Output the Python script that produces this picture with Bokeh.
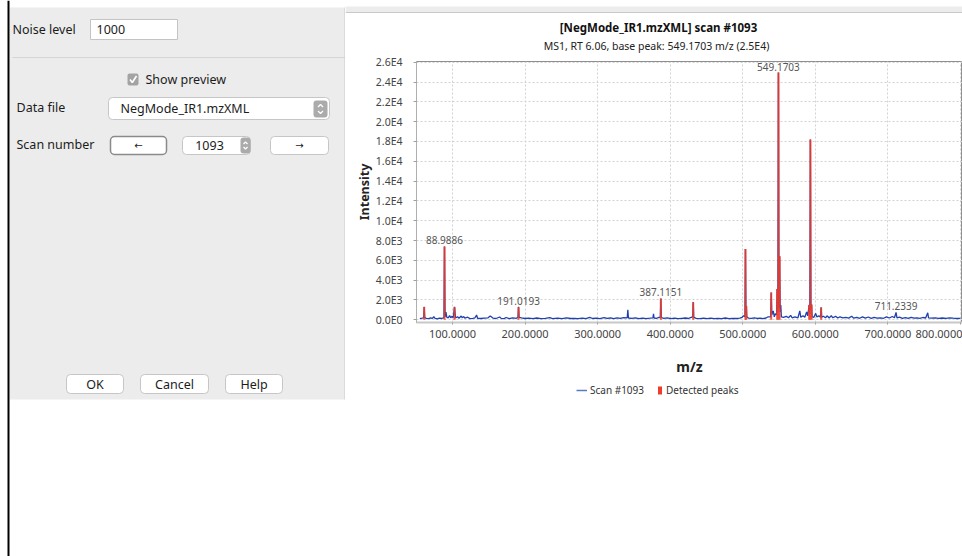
from bokeh.plotting import figure
from bokeh.models import Range1d, FixedTicker, Legend, LegendItem
from bokeh.layouts import row, column
from bokeh.core.properties import value
from bokeh.embed import file_html
from bokeh.resources import INLINE

FONT = "Noto Sans"

# ---------------- data ----------------
x_ticks = [100, 200, 300, 400, 500, 600, 700, 800]
x_tick_labels = ["100.0000", "200.0000", "300.0000", "400.0000",
                 "500.0000", "600.0000", "700.0000", "800.0000"]
y_ticks = [0, 2000, 4000, 6000, 8000, 10000, 12000, 14000,
           16000, 18000, 20000, 22000, 24000, 26000]
y_tick_labels = ["0.0E0", "2.0E3", "4.0E3", "6.0E3", "8.0E3", "1.0E4", "1.2E4",
                 "1.4E4", "1.6E4", "1.8E4", "2.0E4", "2.2E4", "2.4E4", "2.6E4"]

# detected peaks (red bars)
peak_mz = [61.0, 88.9886, 102.8, 191.0193, 387.1151, 431.7, 503.7, 504.9,
           539.2, 547.4, 549.1703, 550.8, 591.5, 593.2, 594.8, 608.0]
peak_int = [1300, 7400, 1300, 1300, 2150, 1780, 7150, 1400,
            2750, 3100, 24950, 6400, 1500, 18200, 1550, 1250]

# scan #1093 profile (blue line)
scan_mz = [55, 58, 60.2, 61.0, 61.8, 64, 67, 70, 72.5, 74.2, 76, 79, 82, 85, 88.2,
           88.99, 89.8, 91.0, 92.2, 94, 96, 97.5, 99.5, 101, 102.8, 104.2, 107, 109,
           112, 113.5, 115.5, 117, 121, 124, 128, 131, 133.2, 134.5, 139, 144, 149,
           152, 153.5, 156, 160, 165, 167, 171, 174, 178, 183, 188, 190.2, 191.02,
           191.8, 195, 200, 205, 211, 216, 222, 228, 234, 238, 245, 251, 257, 263,
           268, 273, 279, 284, 289, 293, 298, 303, 309, 313, 318, 322, 327, 331, 336,
           340.8, 341.6, 342.5, 347, 352, 357, 362, 367, 372, 376.2, 377, 377.8, 381,
           384, 386.4, 387.12, 387.9, 391, 396, 401, 406, 411, 416, 421, 425, 429,
           431.0, 431.7, 432.5, 436, 441, 446, 451, 456, 461, 466, 471, 476, 481, 486,
           491, 496, 499, 501, 503.0, 503.7, 504.4, 504.9, 505.6, 508, 512, 516, 520,
           524, 528, 532, 535, 538.4, 539.2, 540.0, 541, 542, 543.5, 545, 546.6, 547.4,
           548.3, 549.17, 550.0, 550.8, 551.6, 552.4, 553.2, 556, 560, 563, 566, 568,
           572, 576, 578.6, 580, 583, 585.5, 588, 589.5, 591.5, 592.4, 593.2, 594.0,
           594.8, 595.6, 598, 600.5, 602, 605, 607.2, 608.0, 608.8, 611, 614, 616.5,
           619, 622, 624, 628, 631, 634, 638, 642, 646, 650, 653, 657, 661, 665, 669,
           673, 677, 681, 685, 690, 694, 698, 702, 706, 709, 711.23, 712.5, 716, 720,
           724, 728, 732, 736, 740, 744, 748, 752, 754.9, 756, 760, 765, 770, 775, 780,
           785, 790, 795, 800]
scan_int = [120, 160, 200, 1300, 220, 150, 110, 180, 150, 320, 140, 100, 160, 130, 200,
            7400, 300, 780, 250, 180, 420, 200, 350, 200, 1300, 180, 300, 150,
            380, 200, 330, 160, 260, 120, 150, 200, 480, 150, 130, 170, 200,
            380, 300, 160, 130, 280, 140, 120, 230, 110, 200, 150, 250, 1300,
            250, 200, 130, 160, 120, 180, 120, 150, 210, 120, 160, 110, 200, 130,
            150, 110, 170, 120, 240, 130, 160, 120, 210, 140, 180, 110, 200, 150, 220,
            200, 1000, 180, 150, 200, 110, 170, 120, 160, 200, 600, 180, 140,
            230, 250, 2150, 230, 150, 200, 120, 170, 110, 150, 180, 130, 250,
            300, 1780, 250, 140, 120, 170, 110, 160, 120, 140, 110, 180, 120, 150,
            130, 170, 250, 400, 300, 7150, 500, 1400, 300, 160, 140, 200, 130,
            170, 120, 180, 300, 300, 2750, 500, 700, 900, 300, 600, 500, 3100,
            800, 24950, 1200, 6400, 800, 1500, 300, 250, 350, 200, 450, 200,
            300, 200, 900, 250, 400, 250, 800, 400, 1500, 600, 18200, 1000,
            1550, 300, 250, 650, 300, 400, 250, 1250, 250, 350, 200, 400,
            180, 420, 200, 350, 180, 300, 200, 250, 170, 350, 160, 250, 150, 300, 160,
            280, 150, 250, 170, 200, 150, 300, 180, 330, 200, 740, 200, 260, 150,
            220, 140, 250, 160, 200, 140, 230, 180, 700, 200, 160, 200, 140, 180, 150,
            200, 160, 130, 150]

label_mz = [88.9886, 191.0193, 387.1151, 549.1703, 711.2339]
label_int = [7400, 1300, 2150, 24950, 740]
label_text = ["88.9886", "191.0193", "387.1151", "549.1703", "711.2339"]

chart_title = "[NegMode_IR1.mzXML] scan #1093"
chart_subtitle = "MS1, RT 6.06, base peak: 549.1703 m/z (2.5E4)"
legend_labels = ["Scan #1093", "Detected peaks"]

RED = "#f03c28"
BLUE = "#2040b0"
PANEL = "#ececec"
TXT = "#1c1c1c"


def blank(fig):
    fig.grid.visible = False
    fig.outline_line_color = None
    fig.background_fill_color = "white"
    fig.border_fill_color = "white"


# ---------------- left dialog panel ----------------
L = figure(width=345, height=556, x_range=Range1d(0, 345), y_range=Range1d(556, 0),
           output_backend="svg", toolbar_location=None, min_border=0,
           x_axis_location=None, y_axis_location=None)
L.frame_align = False
blank(L)
L.quad(left=[9], right=[345], top=[7], bottom=[399], fill_color=PANEL, line_color=None)
L.quad(left=[7], right=[9], top=[0], bottom=[556], fill_color="black", line_color=None)
L.segment(x0=[12], y0=[57], x1=[345], y1=[57], line_color="#d4d4d4", line_width=1)
L.segment(x0=[344.5], y0=[7], x1=[344.5], y1=[399], line_color="#cacaca", line_width=1)

# text field
L.quad(left=[90], right=[177], top=[19], bottom=[39], fill_color="white", line_color="#c4c4c4")
# rounded controls
L.quad(left=[108, 182, 270, 66, 140, 225], right=[329, 250, 328, 123, 208, 282],
       top=[97, 136, 136, 374, 374, 374], bottom=[119, 154, 154, 393, 393, 393],
       fill_color="white", line_color="#c6c6c6", border_radius=4)
L.quad(left=[110], right=[166], top=[136], bottom=[154], fill_color="white",
       line_color="#8a8a8a", line_width=1.5, border_radius=4)
# steppers
L.quad(left=[313, 240], right=[327, 250], top=[100, 137], bottom=[117, 153],
       fill_color="#ababab", line_color=None, border_radius=3)
L.multi_line(xs=[[317.5, 320, 322.5], [317.5, 320, 322.5], [243, 245, 247], [243, 245, 247]],
             ys=[[106.5, 104, 106.5], [110.5, 113, 110.5], [143.5, 141.5, 143.5], [146.5, 148.5, 146.5]],
             line_color="white", line_width=1.3)
# checkbox
L.quad(left=[127], right=[138], top=[73], bottom=[85], fill_color="#a3a3a3",
       line_color=None, border_radius=2)
L.line(x=[129.5, 131.8, 136], y=[79, 82, 75.5], line_color="white", line_width=1.6)

L.text(x=[12, 96, 145, 16, 120, 16], y=[29, 29, 79, 107, 108, 144],
       text=["Noise level", "1000", "Show preview", "Data file", "NegMode_IR1.mzXML",
             "Scan number"],
       text_baseline="middle", text_align="left", text_font_size="12.5px",
       text_color=TXT, text_font=value(FONT))
L.text(x=[209, 94.5, 174, 253.5], y=[145, 383.5, 383.5, 383.5],
       text=["1093", "OK", "Cancel", "Help"], text_baseline="middle", text_align="center",
       text_font_size="12.5px", text_color=TXT, text_font=value(FONT))
L.text(x=[138, 299], y=[145, 145], text=["←", "→"], text_baseline="middle",
       text_align="center", text_font_size="10px", text_color=TXT,
       text_font=value("DejaVu Sans"))

# ---------------- chart header (title + subtitle) ----------------
H = figure(width=617, height=53, x_range=Range1d(345, 962), y_range=Range1d(53, 0),
           output_backend="svg", toolbar_location=None, min_border=0,
           x_axis_location=None, y_axis_location=None)
H.frame_align = False
blank(H)
H.quad(left=[345], right=[962], top=[6], bottom=[11.5], fill_color=PANEL, line_color=None)
H.segment(x0=[345], y0=[12], x1=[962], y1=[12], line_color="#c8c8c8", line_width=1)
H.text(x=[658], y=[27], text=[chart_title], text_align="center", text_baseline="middle",
       text_font_size="11.5px", text_font_style="bold", text_color="#111111",
       text_font=value(FONT))
H.text(x=[656], y=[45], text=[chart_subtitle], text_align="center", text_baseline="middle",
       text_font_size="10.5px", text_color="#222222", text_font=value(FONT))

# ---------------- spectrum chart ----------------
P = figure(width=617, height=327, x_range=Range1d(50.4, 802.8), y_range=Range1d(-275, 26070),
           output_backend="svg", toolbar_location=None,
           min_border_left=71, min_border_right=0, min_border_top=8, min_border_bottom=58)
P.frame_align = False
P.background_fill_color = "white"
P.border_fill_color = "white"
P.outline_line_color = "#8f8f8f"

r_line = P.line(x=scan_mz, y=scan_int, line_color=BLUE, line_width=1.3)
r_bar = P.vbar(x=peak_mz, top=peak_int, bottom=0, width=2.8, fill_color=RED,
               fill_alpha=0.85, line_color=None)
P.text(x=label_mz, y=label_int, text=label_text, text_align="center", text_baseline="bottom",
       y_offset=-2, text_font_size="10px", text_color="#555555", text_font=value(FONT))

P.xaxis.ticker = FixedTicker(ticks=x_ticks)
P.xaxis.major_label_overrides = dict(zip(x_ticks, x_tick_labels))
P.yaxis.ticker = FixedTicker(ticks=y_ticks)
P.yaxis.major_label_overrides = dict(zip(y_ticks, y_tick_labels))
P.xgrid.ticker = FixedTicker(ticks=x_ticks)
P.ygrid.ticker = FixedTicker(ticks=y_ticks)
for g in (P.xgrid, P.ygrid):
    g.grid_line_color = "#d2d2d2"
    g.grid_line_dash = "2 2"
    g.grid_line_width = 1

for ax in (P.xaxis, P.yaxis):
    ax.major_label_text_font = FONT
    ax.major_label_text_color = "#444444"
    ax.axis_label_text_font = FONT
    ax.axis_label_text_font_style = "bold"
    ax.axis_label_text_color = "#222222"
    ax.minor_tick_line_color = None
    ax.major_tick_in = 0
    ax.major_tick_line_color = "#a0a0a0"

P.xaxis.axis_label = "m/z"
P.xaxis.major_label_text_font_size = "11px"
P.xaxis.axis_label_text_font_size = "14px"
P.xaxis.axis_label_standoff = 16
P.xaxis.major_tick_out = 2
P.xaxis.major_label_standoff = 5
P.xaxis.axis_line_color = "#c8c8c8"
P.xaxis.axis_line_width = 2

P.yaxis.axis_label = "Intensity"
P.yaxis.major_label_text_font_size = "10.5px"
P.yaxis.axis_label_text_font_size = "12.5px"
P.yaxis.axis_label_standoff = 0
P.yaxis.major_tick_out = 3
P.yaxis.major_label_standoff = 11
P.yaxis.axis_line_color = "#b0b0b0"

# ---------------- legend strip ----------------
F = figure(width=617, height=20, x_range=Range1d(0, 1), y_range=Range1d(0, 1),
           output_backend="svg", toolbar_location=None, min_border=0,
           x_axis_location=None, y_axis_location=None)
F.frame_align = False
blank(F)
# legend keys only (kept outside the visible range)
f_line = F.line(x=[-5, -4], y=[-5, -5], line_color="#5a78c8", line_width=1.5)
f_bar = F.vbar(x=[-5], top=[-4], bottom=[-5], width=0.1, fill_color=RED, line_color=None)
common = dict(orientation="horizontal", glyph_height=10, label_height=12,
              padding=0, margin=0, border_line_color=None, background_fill_alpha=0,
              label_text_font=FONT, label_text_font_size="10px", label_text_color="#333333")
leg1 = Legend(items=[LegendItem(label=legend_labels[0], renderers=[f_line])], location=(231, 3),
              glyph_width=11, label_standoff=3, **common)
leg2 = Legend(items=[LegendItem(label=legend_labels[1], renderers=[f_bar])], location=(312, 3),
              glyph_width=5, label_standoff=4, **common)
F.add_layout(leg1, "center")
F.add_layout(leg2, "center")

layout = row(L, column(H, P, F))

with open("out.html", "w") as f:
    f.write(file_html(layout, INLINE))
